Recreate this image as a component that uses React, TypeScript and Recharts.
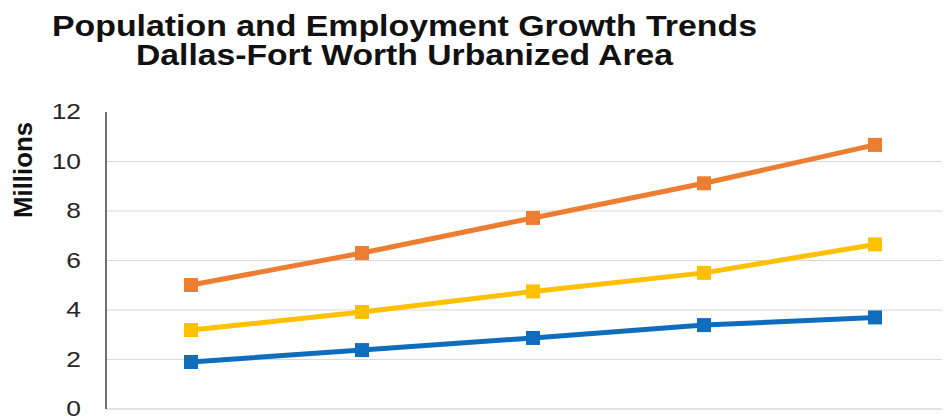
import React from 'react';
import { LineChart, Line, XAxis, YAxis, CartesianGrid } from 'recharts';

// Forecast years (axis labels fall below the visible frame)
const years = ['2010', '2020', '2030', '2040', '2050'];
const population = [5.01, 6.3, 7.72, 9.12, 10.67];
const employment = [3.19, 3.92, 4.75, 5.5, 6.65];
const households = [1.9, 2.38, 2.87, 3.39, 3.7];
const yTicks = [0, 2, 4, 6, 8, 10, 12];

const data = years.map((year, i) => ({
  year,
  population: population[i],
  employment: employment[i],
  households: households[i],
}));

const FONT = '"Liberation Sans", Arial, sans-serif';

// square markers like the spreadsheet original
const SquareDot = (props: any) => {
  const { cx, cy, stroke } = props;
  if (cx == null || cy == null) return null;
  return <rect x={cx - 7} y={cy - 7} width={14} height={14} fill={stroke} />;
};

// tick labels look horizontally stretched in the source picture
const YTick = (props: any) => {
  const { x, y, payload } = props;
  return (
    <g transform={`translate(${x},${y}) scale(1.2,1)`}>
      <text textAnchor="end" dy="0.33em" fill="#262626" fontSize={22} fontFamily={FONT}>
        {payload.value}
      </text>
    </g>
  );
};

const App: React.FC = () => {
  const width = 942;
  const height = 430;

  return (
    <div style={{ position: 'relative', width, height: 411, background: '#fff' }}>
      <LineChart
        width={width}
        height={height}
        data={data}
        margin={{ top: 104, right: 0, bottom: 28, left: 0 }}
      >
        <CartesianGrid
          vertical={false}
          stroke="#d9d9d9"
          horizontalCoordinatesGenerator={({ offset }: any) =>
            yTicks
              .filter((t) => t < 12)
              .map((t) => offset.top + offset.height * (1 - t / 12))
          }
        />
        <XAxis
          dataKey="year"
          height={1}
          tick={false}
          tickLine={false}
          axisLine={{ stroke: '#d9d9d9' }}
          padding={{ left: 85, right: 75 }}
        />
        <YAxis
          width={98}
          domain={[0, 12]}
          ticks={yTicks}
          tickSize={0}
          tickMargin={25}
          tickLine={false}
          axisLine={{ stroke: '#3c3f5e', strokeWidth: 1.5 }}
          tick={<YTick />}
        />
        <Line
          dataKey="population"
          stroke="#ed7d31"
          strokeWidth={5}
          dot={<SquareDot />}
          activeDot={false}
          isAnimationActive={false}
        />
        <Line
          dataKey="employment"
          stroke="#ffc000"
          strokeWidth={5}
          dot={<SquareDot />}
          activeDot={false}
          isAnimationActive={false}
        />
        <Line
          dataKey="households"
          stroke="#0f6dbd"
          strokeWidth={5}
          dot={<SquareDot />}
          activeDot={false}
          isAnimationActive={false}
        />
      </LineChart>

      {/* Title and axis caption */}
      <svg
        width={width}
        height={120}
        style={{ position: 'absolute', left: 0, top: 0, pointerEvents: 'none' }}
      >
        <text
          x={44}
          y={28}
          fontFamily={FONT}
          fontWeight="bold"
          fontSize={29}
          fill="#111"
          textLength={705}
          lengthAdjust="spacingAndGlyphs"
        >
          Population  and Employment Growth Trends
        </text>
        <text
          x={128}
          y={57}
          fontFamily={FONT}
          fontWeight="bold"
          fontSize={29}
          fill="#111"
          textLength={537}
          lengthAdjust="spacingAndGlyphs"
        >
          Dallas-Fort Worth Urbanized Area
        </text>
      </svg>
      <svg
        width={40}
        height={120}
        style={{ position: 'absolute', left: 0, top: 102, pointerEvents: 'none' }}
      >
        <text
          transform="translate(15,60) rotate(-90)"
          textAnchor="middle"
          dominantBaseline="central"
          fontFamily={FONT}
          fontWeight="bold"
          fontSize={25}
          fill="#111"
          textLength={96}
          lengthAdjust="spacingAndGlyphs"
        >
          Millions
        </text>
      </svg>
    </div>
  );
};

export default App;
